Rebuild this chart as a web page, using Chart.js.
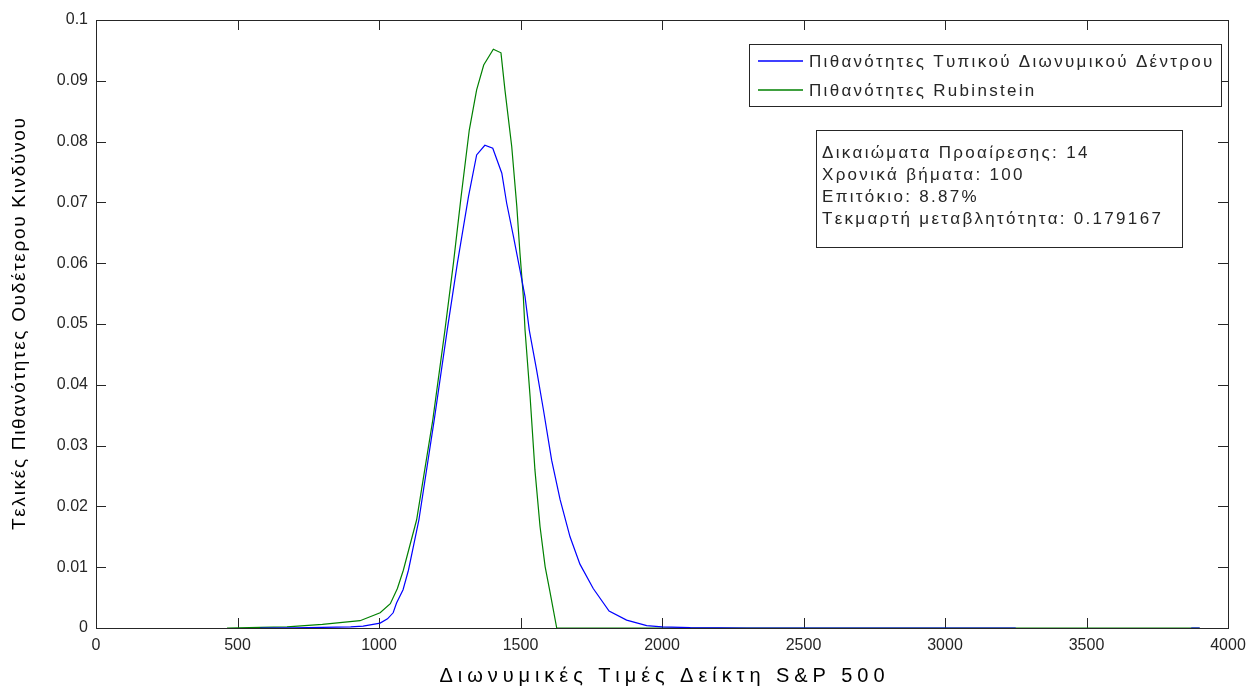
<!DOCTYPE html>
<html>
<head>
<meta charset="utf-8">
<script src="https://cdn.jsdelivr.net/npm/chart.js@4"></script>
<style>
  html, body { margin: 0; padding: 0; background: #fff; }
  #wrap { width: 1248px; height: 689px; }
</style>
</head>
<body>
<div id="wrap"><canvas id="chart" width="1248" height="689"></canvas></div>
<script>
// Standard binomial tree probabilities
const stdX = [580, 700, 800, 900, 944, 1004, 1030, 1050, 1062, 1085, 1104, 1141, 1195, 1241, 1277, 1316, 1345, 1374,
              1402, 1434, 1451, 1475, 1498, 1516, 1531, 1557, 1581, 1610, 1640, 1675, 1710, 1757, 1813, 1875, 1946,
              2000, 2100, 2300, 3250, 3500, 3870, 3900];
const stdP = [0, 0.00003, 0.0001, 0.0002, 0.0003, 0.0008, 0.0015, 0.0025, 0.0041, 0.0063, 0.0095, 0.0178, 0.0342,
              0.049, 0.060, 0.0709, 0.0778, 0.0794, 0.0789, 0.0748, 0.0699, 0.0644, 0.0589, 0.0545, 0.049, 0.0424,
              0.0359, 0.0276, 0.0211, 0.015, 0.0105, 0.0065, 0.0028, 0.0013, 0.0004, 0.0002, 0.00005, 0, 0, null, 0, 0];

// Rubinstein implied probabilities
const rubX = [463, 580, 675, 800, 933, 1004, 1040, 1065, 1086, 1133, 1190, 1233, 1263, 1290, 1319, 1345, 1370, 1404,
              1431, 1445, 1469, 1487, 1498, 1510, 1516, 1534, 1551, 1569, 1587, 1604, 1628, 3900];
const rubP = [0, 0.0001, 0.0002, 0.0006, 0.0012, 0.0025, 0.004, 0.0065, 0.0095, 0.0178, 0.0342, 0.049, 0.060, 0.0709,
              0.0819, 0.0885, 0.0926, 0.0952, 0.0946, 0.0885, 0.0792, 0.0693, 0.0617, 0.0545, 0.049, 0.038, 0.026,
              0.0167, 0.0101, 0.006, 0, 0];

const seriesLabels = ['Πιθανότητες Τυπικού Διωνυμικού Δέντρου', 'Πιθανότητες Rubinstein'];
const seriesColors = ['#0000ff', '#008000'];

const infoLines = [
    'Δικαιώματα Προαίρεσης: 14',
    'Χρονικά βήματα: 100',
    'Επιτόκιο: 8.87%',
    'Τεκμαρτή μεταβλητότητα: 0.179167'
];

const xTitle = 'Διωνυμικές Τιμές Δείκτη S&P 500';
const yTitle = 'Τελικές Πιθανότητες Ουδέτερου Κινδύνου';

const FONT = "'Liberation Sans', Arial, sans-serif";
const TEXT = '#262626';

function toPoints(xs, ys) {
    return xs.map((x, i) => ({ x: x, y: ys[i] }));
}

// old MATLAB renders text with wide letter spacing, so draw it char by char
function drawSpaced(ctx, text, x, y, gap) {
    let cx = x;
    for (const ch of text) {
        ctx.fillText(ch, cx, y);
        cx += ctx.measureText(ch).width + gap;
    }
}

function drawFitted(ctx, text, cx, cy, width) {
    let natural = 0;
    for (const ch of text) natural += ctx.measureText(ch).width;
    const gap = (width - natural) / (text.length - 1);
    drawSpaced(ctx, text, cx - width / 2, cy, gap);
}

// MATLAB style box with inward ticks on all four sides
const matlabAxes = {
    id: 'matlabAxes',
    beforeDatasetsDraw(chart) {
        const { ctx, chartArea: a, scales } = chart;
        const len = 10;
        ctx.save();
        ctx.strokeStyle = '#262626';
        ctx.lineWidth = 1;
        ctx.beginPath();
        scales.x.ticks.forEach(t => {
            const px = Math.round(scales.x.getPixelForValue(t.value)) + 0.5;
            ctx.moveTo(px, a.bottom); ctx.lineTo(px, a.bottom - len);
            ctx.moveTo(px, a.top); ctx.lineTo(px, a.top + len);
        });
        scales.y.ticks.forEach(t => {
            const py = Math.round(scales.y.getPixelForValue(t.value)) + 0.5;
            ctx.moveTo(a.left, py); ctx.lineTo(a.left + len, py);
            ctx.moveTo(a.right, py); ctx.lineTo(a.right - len, py);
        });
        ctx.stroke();
        ctx.strokeRect(Math.round(a.left) + 0.5, Math.round(a.top) + 0.5,
                       Math.round(a.right - a.left), Math.round(a.bottom - a.top));

        // axis titles
        const midX = (a.left + a.right) / 2, midY = (a.top + a.bottom) / 2;
        ctx.fillStyle = '#000';
        ctx.textBaseline = 'middle';
        ctx.font = '20px ' + FONT;
        drawFitted(ctx, xTitle, midX, 676, 445);
        ctx.save();
        ctx.translate(20, midY);
        ctx.rotate(-Math.PI / 2);
        ctx.font = '19px ' + FONT;
        drawFitted(ctx, yTitle, 0, 0, 412);
        ctx.restore();
        ctx.restore();
    },
    afterDraw(chart) {
        const { ctx } = chart;
        const gap = 2.3;
        ctx.save();
        ctx.font = '17px ' + FONT;
        ctx.textBaseline = 'middle';
        ctx.lineWidth = 1;

        // legend box
        const lx = 749.5, ly = 44.5, lw = 472, lh = 62;
        ctx.fillStyle = '#fff';
        ctx.fillRect(lx, ly, lw, lh);
        ctx.strokeStyle = '#262626';
        ctx.strokeRect(lx, ly, lw, lh);
        chart.data.datasets.forEach((ds, i) => {
            const y = 61 + i * 29;
            ctx.strokeStyle = seriesColors[i];
            ctx.lineWidth = 1.3;
            ctx.beginPath();
            ctx.moveTo(758, y); ctx.lineTo(803, y);
            ctx.stroke();
            ctx.fillStyle = TEXT;
            drawSpaced(ctx, ds.label, 809, y + 1, gap);
        });

        // annotation box
        const bx = 816.5, by = 130.5, bw = 366, bh = 117;
        ctx.fillStyle = '#fff';
        ctx.fillRect(bx, by, bw, bh);
        ctx.strokeStyle = '#262626';
        ctx.lineWidth = 1;
        ctx.strokeRect(bx, by, bw, bh);
        ctx.fillStyle = TEXT;
        infoLines.forEach((line, i) => {
            drawSpaced(ctx, line, 822, 153 + i * 22, gap);
        });
        ctx.restore();
    }
};

const ctx = document.getElementById('chart').getContext('2d');
new Chart(ctx, {
    type: 'scatter',
    data: {
        datasets: [
            {
                label: seriesLabels[0],
                data: toPoints(stdX, stdP),
                borderColor: seriesColors[0],
                backgroundColor: seriesColors[0],
                showLine: true,
                borderWidth: 1.2,
                pointRadius: 0,
                tension: 0
            },
            {
                label: seriesLabels[1],
                data: toPoints(rubX, rubP),
                borderColor: seriesColors[1],
                backgroundColor: seriesColors[1],
                showLine: true,
                borderWidth: 1.2,
                pointRadius: 0,
                tension: 0
            }
        ]
    },
    options: {
        responsive: false,
        animation: false,
        layout: { padding: { left: 0, top: 20, right: 20, bottom: 0 } },
        plugins: {
            legend: { display: false },
            tooltip: { enabled: false }
        },
        scales: {
            x: {
                type: 'linear',
                min: 0,
                max: 4000,
                grid: { display: false, drawTicks: false },
                border: { display: false },
                afterFit(scale) {
                    scale.height = 61;
                    scale.paddingLeft = 0;
                    scale.paddingRight = 0;
                },
                ticks: {
                    stepSize: 500,
                    padding: 8,
                    color: TEXT,
                    font: { family: FONT, size: 16 },
                    callback: v => String(v)
                }
            },
            y: {
                type: 'linear',
                min: 0,
                max: 0.1,
                grid: { display: false, drawTicks: false },
                border: { display: false },
                afterFit(scale) {
                    scale.width = 96;
                    scale.paddingTop = 0;
                    scale.paddingBottom = 0;
                },
                ticks: {
                    stepSize: 0.01,
                    padding: 8,
                    color: TEXT,
                    font: { family: FONT, size: 16 },
                    callback: v => String(+v.toFixed(2))
                }
            }
        }
    },
    plugins: [matlabAxes]
});
</script>
</body>
</html>
